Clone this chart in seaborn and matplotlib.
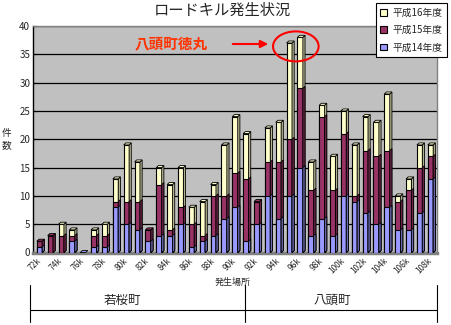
import matplotlib
matplotlib.use("Agg")
import matplotlib.pyplot as plt
import matplotlib.colors as mcolors
import matplotlib.transforms as mtransforms
from matplotlib.patches import Polygon, Ellipse, Patch
from matplotlib.lines import Line2D
import numpy as np
import pandas as pd
import seaborn as sns

# Kilometre posts along the road (one bar each)
locations = ["72k", "73k", "74k", "75k", "76k", "77k", "78k", "79k", "80k", "81k",
             "82k", "83k", "84k", "85k", "86k", "87k", "88k", "89k", "90k", "91k",
             "92k", "93k", "94k", "95k", "96k", "97k", "98k", "99k", "100k", "101k",
             "102k", "103k", "104k", "105k", "106k", "107k", "108k"]

# Road-kill counts per fiscal year
h14 = [1, 0, 0, 2, 0, 1, 1, 8, 5, 4, 2, 3, 3, 5, 1, 2, 3, 6, 8, 2,
       5, 10, 6, 10, 15, 3, 6, 3, 10, 9, 7, 5, 8, 4, 4, 7, 13]
h15 = [1, 3, 3, 1, 0, 2, 2, 1, 4, 5, 2, 9, 1, 3, 4, 1, 7, 4, 6, 11,
       4, 6, 10, 10, 14, 8, 18, 8, 11, 1, 11, 12, 10, 5, 7, 8, 4]
h16 = [0, 0, 2, 1, 0, 1, 2, 4, 10, 7, 0, 3, 8, 7, 3, 6, 2, 9, 10, 8,
       0, 6, 7, 17, 9, 5, 2, 6, 4, 9, 6, 6, 10, 1, 2, 4, 2]

series_names = ["平成14年度", "平成15年度", "平成16年度"]
series_colors = ["#9999FF", "#993366", "#FFFFCC"]
y_ticks = [0, 5, 10, 15, 20, 25, 30, 35, 40]
towns = ["若桜町", "八頭町"]

sns.set_theme(style="white")
plt.rcParams["font.family"] = ["Noto Sans CJK JP", "DejaVu Sans"]

W, H = 452, 325
fig = plt.figure(figsize=(W / 100, H / 100), dpi=100)
fig.patch.set_facecolor("white")
ax = fig.add_axes([33 / W, (H - 252.5) / H, (437 - 33) / W, 226.5 / H])
ax.set_facecolor("#C0C0C0")

df = pd.DataFrame({"location": locations, "h14": h14, "h15": h15, "h16": h16})
df["c14"] = df["h14"]
df["c15"] = df["h14"] + df["h15"]
df["c16"] = df["c15"] + df["h16"]

# stacked look: draw cumulative totals, largest first
groups = []
for col, color in [("c16", series_colors[2]), ("c15", series_colors[1]), ("c14", series_colors[0])]:
    n0 = len(ax.patches)
    sns.barplot(data=df, x="location", y=col, order=locations, color=color,
                saturation=1, width=0.5, edgecolor="black", linewidth=0.8,
                errorbar=None, ax=ax, zorder=3)
    groups.append((list(ax.patches[n0:]), color))

# depth of the pseudo-3D side faces and caps (data units)
dx, dy = 0.2, 0.35


def shade(c, f):
    rgb = np.array(mcolors.to_rgb(c)) * f
    return tuple(np.clip(rgb, 0, 1))


for patches, color in groups:
    for p in patches:
        x0, y0, w, h = p.get_x(), p.get_y(), p.get_width(), p.get_height()
        if h <= 0:
            continue
        x1 = x0 + w
        side = Polygon([(x1, y0), (x1 + dx, y0 + dy), (x1 + dx, y0 + h + dy), (x1, y0 + h)],
                       closed=True, facecolor=shade(color, 0.7), edgecolor="black",
                       linewidth=0.6, zorder=3)
        ax.add_patch(side)

# caps on top of each stack
tops = groups[0][0]
for i, p in enumerate(tops):
    if h16[i] > 0:
        cap_color = series_colors[2]
    elif h15[i] > 0:
        cap_color = series_colors[1]
    else:
        cap_color = series_colors[0]
    x0, w, top = p.get_x(), p.get_width(), p.get_height()
    cap = Polygon([(x0, top), (x0 + dx, top + dy), (x0 + w + dx, top + dy), (x0 + w, top)],
                  closed=True, facecolor=cap_color, edgecolor="black", linewidth=0.6, zorder=4)
    ax.add_patch(cap)

ax.set_xlim(-0.6, 36.6)
ax.set_ylim(0, 40)
ax.set_yticks(y_ticks)
ax.set_yticklabels([str(v) for v in y_ticks], fontsize=7)
ax.yaxis.grid(True, color="black", linewidth=0.9)
ax.set_axisbelow(True)
ax.set_xlabel("")
ax.set_ylabel("")

ax.set_xticks(range(0, len(locations), 2))
ax.set_xticklabels(locations[::2], rotation=45, ha="right", va="center",
                   rotation_mode="anchor", fontsize=6)
offset = mtransforms.ScaledTranslation(-8 / 100, 0, fig.dpi_scale_trans)
for lbl in ax.get_xticklabels():
    lbl.set_transform(lbl.get_transform() + offset)
ax.tick_params(axis="x", length=0, pad=5)
ax.tick_params(axis="y", direction="in", length=3, width=0.8, color="black", pad=2, left=True)

for s in ["top", "right"]:
    ax.spines[s].set_color("#808080")
    ax.spines[s].set_linewidth(1)
ax.spines["left"].set_color("black")
ax.spines["left"].set_linewidth(1)
ax.spines["bottom"].set_color("#808080")
ax.spines["bottom"].set_linewidth(2.5)

# title and axis captions
fig.text(222 / W, 1 - 10 / H, "ロードキル発生状況", ha="center", va="center", fontsize=11)
fig.text(7 / W, 1 - 139 / H, "件\n数", ha="center", va="center", fontsize=7, linespacing=1.3)
fig.text(233 / W, 1 - 282 / H, "発生場所", ha="center", va="center", fontsize=6.5)

# town grouping below the axis
line_kw = dict(color="black", linewidth=0.8, transform=fig.transFigure)
for xp in [29.5, 245, 437]:
    fig.add_artist(Line2D([xp / W, xp / W], [1 - 285 / H, 1 - 322 / H], **line_kw))
fig.add_artist(Line2D([29.5 / W, 437 / W], [1 - 309.5 / H, 1 - 309.5 / H], **line_kw))
fig.text(122 / W, 1 - 300 / H, towns[0], ha="center", va="center", fontsize=9)
fig.text(332 / W, 1 - 300 / H, towns[1], ha="center", va="center", fontsize=9)

# highlight of the peak site
fig.text(171.5 / W, 1 - 43 / H, "八頭町徳丸", ha="center", va="center", fontsize=10.5,
         color="#FF3300", fontweight="bold")
ax.annotate("", xy=(271, H - 44), xycoords="figure pixels",
            xytext=(230, H - 44), textcoords="figure pixels",
            arrowprops=dict(arrowstyle="-|>", color="#FF0000", lw=1.5, mutation_scale=11))
ax.add_patch(Ellipse((23.6, 36.4), 4.2, 5.3, fill=False, edgecolor="#FF0000",
                     linewidth=1.5, clip_on=False, zorder=6))

# legend (latest year on top)
handles = [Patch(facecolor=series_colors[i], edgecolor="black", linewidth=0.8, label=series_names[i])
           for i in [2, 1, 0]]
leg = fig.legend(handles=handles, loc="upper right", bbox_to_anchor=(447 / W, 1 - 3 / H),
                 fontsize=7, frameon=True, fancybox=False, framealpha=1,
                 handlelength=0.7, handleheight=0.7, handletextpad=0.5,
                 borderpad=0.5, labelspacing=0.75, borderaxespad=0)
leg.get_frame().set_edgecolor("black")
leg.get_frame().set_linewidth(0.8)

fig.savefig("out.png", dpi=100, facecolor="white")
